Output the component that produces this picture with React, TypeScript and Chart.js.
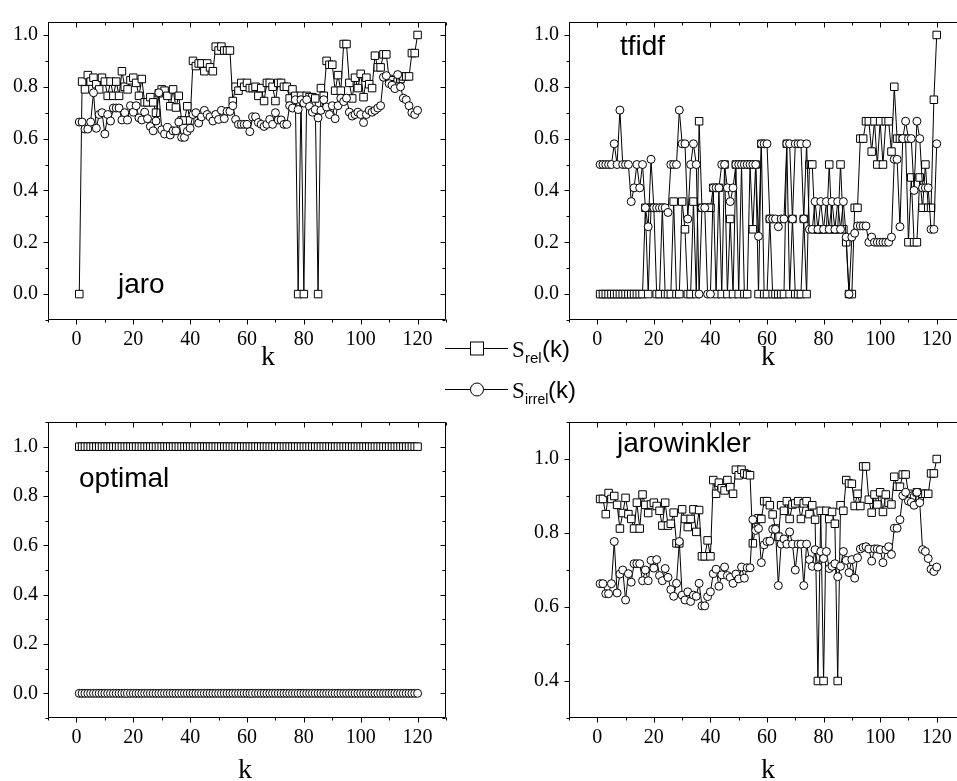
import React, { useEffect, useRef } from 'react';
import { Chart, registerables } from 'chart.js';

Chart.register(...registerables);

// k = 1..120
const K = [
  1, 2, 3, 4, 5, 6, 7, 8, 9, 10, 11, 12, 13, 14, 15, 16, 17, 18, 19, 20,
  21, 22, 23, 24, 25, 26, 27, 28, 29, 30, 31, 32, 33, 34, 35, 36, 37, 38, 39, 40,
  41, 42, 43, 44, 45, 46, 47, 48, 49, 50, 51, 52, 53, 54, 55, 56, 57, 58, 59, 60,
  61, 62, 63, 64, 65, 66, 67, 68, 69, 70, 71, 72, 73, 74, 75, 76, 77, 78, 79, 80,
  81, 82, 83, 84, 85, 86, 87, 88, 89, 90, 91, 92, 93, 94, 95, 96, 97, 98, 99, 100,
  101, 102, 103, 104, 105, 106, 107, 108, 109, 110, 111, 112, 113, 114, 115, 116, 117, 118, 119, 120,
];

const X_TICK_LABELS = [0, 20, 40, 60, 80, 100, 120];
const Y_TICKS_FULL = [0, 0.2, 0.4, 0.6, 0.8, 1.0];
const Y_TICKS_JW = [0.4, 0.6, 0.8, 1.0];

// jaro
const JARO_REL = [
  0, 0.82, 0.79, 0.845, 0.82, 0.835, 0.81, 0.79, 0.835, 0.82,
  0.765, 0.82, 0.765, 0.82, 0.765, 0.86, 0.8, 0.79, 0.825, 0.835,
  0.815, 0.765, 0.83, 0.74, 0.74, 0.76, 0.74, 0.7, 0.775, 0.79,
  0.785, 0.765, 0.725, 0.79, 0.72, 0.765, 0.67, 0.67, 0.725, 0.67,
  0.9, 0.88, 0.89, 0.89, 0.86, 0.89, 0.875, 0.86, 0.955, 0.94,
  0.955, 0.94, 0.94, 0.94, 0.745, 0.8, 0.785, 0.815, 0.8, 0.815,
  0.795, 0.795, 0.8, 0.765, 0.795, 0.745, 0.815, 0.815, 0.8, 0.745,
  0.815, 0.815, 0.8, 0.8, 0.755, 0.79, 0.765, 0, 0.765, 0,
  0.765, 0.76, 0.76, 0.755, 0, 0.795, 0.765, 0.9, 0.885, 0.885,
  0.785, 0.845, 0.785, 0.965, 0.965, 0.815, 0.755, 0.835, 0.795, 0.85,
  0.76, 0.835, 0.81, 0.795, 0.92, 0.875, 0.875, 0.925, 0.925, 0.83,
  0.825, 0.81, 0.82, 0.83, 0.84, 0.84, 0.84, 0.93, 0.93, 1.0,
];
const JARO_IRR = [
  0.664, 0.664, 0.637, 0.637, 0.664, 0.777, 0.64, 0.693, 0.7, 0.618,
  0.693, 0.668, 0.718, 0.718, 0.718, 0.672, 0.7, 0.672, 0.727, 0.702,
  0.727, 0.68, 0.672, 0.702, 0.677, 0.647, 0.63, 0.668, 0.777, 0.634,
  0.618, 0.643, 0.614, 0.63, 0.63, 0.664, 0.605, 0.605, 0.628, 0.64,
  0.693, 0.7, 0.66, 0.684, 0.709, 0.693, 0.684, 0.668, 0.693, 0.674,
  0.709, 0.677, 0.705, 0.705, 0.727, 0.674, 0.655, 0.655, 0.655, 0.655,
  0.627, 0.684, 0.684, 0.662, 0.655, 0.647, 0.655, 0.674, 0.655, 0.7,
  0.672, 0.672, 0.655, 0.655, 0.727, 0.718, 0.75, 0.712, 0.75, 0.737,
  0.75, 0.724, 0.702, 0.712, 0.68, 0.709, 0.75, 0.722, 0.693, 0.727,
  0.677, 0.727, 0.756, 0.743, 0.756, 0.702, 0.687, 0.693, 0.702, 0.693,
  0.662, 0.693, 0.709, 0.702, 0.709, 0.718, 0.727, 0.837, 0.843, 0.812,
  0.806, 0.793, 0.847, 0.8, 0.756, 0.75, 0.727, 0.7, 0.693, 0.709,
];

// tfidf
const TFIDF_REL = [
  0, 0, 0, 0, 0, 0, 0, 0, 0, 0,
  0, 0, 0, 0, 0, 0, 0.333, 0, 0.333, 0.333,
  0, 0, 0.333, 0, 0, 0, 0.357, 0, 0, 0.357,
  0.25, 0, 0, 0.357, 0, 0.667, 0.333, 0.333, 0.333, 0.333,
  0.41, 0, 0.41, 0, 0.5, 0, 0.29, 0, 0.5, 0,
  0.5, 0, 0, 0.5, 0.25, 0.5, 0, 0.58, 0, 0,
  0.29, 0, 0, 0, 0, 0, 0.58, 0, 0.29, 0,
  0, 0, 0.29, 0, 0.5, 0.5, 0.25, 0.25, 0.25, 0.25,
  0.25, 0.5, 0.25, 0.25, 0.25, 0.5, 0.25, 0.2, 0, 0,
  0.333, 0.333, 0.6, 0.6, 0.667, 0.667, 0.55, 0.667, 0.5, 0.667,
  0.5, 0.667, 0.667, 0.55, 0.8, 0.6, 0.6, 0.6, 0.6, 0.2,
  0.45, 0.2, 0.2, 0.45, 0.333, 0.5, 0.333, 0.333, 0.75, 1.0,
];
const TFIDF_IRR = [
  0.5, 0.5, 0.5, 0.5, 0.5, 0.58, 0.5, 0.71, 0.5, 0.5,
  0.5, 0.357, 0.41, 0.5, 0.41, 0.5, 0.333, 0.26, 0.52, 0.333,
  0.333, 0.333, 0.333, 0.333, 0.315, 0.5, 0.5, 0.5, 0.71, 0.58,
  0.58, 0.29, 0.5, 0.58, 0.5, 0, 0.333, 0.333, 0, 0,
  0.41, 0.41, 0.41, 0.5, 0.5, 0.41, 0.357, 0.41, 0.5, 0.5,
  0.5, 0.5, 0.5, 0.5, 0.5, 0.5, 0.223, 0.58, 0.58, 0.58,
  0.29, 0.29, 0.29, 0.26, 0.29, 0.29, 0.58, 0.58, 0.29, 0.58,
  0.58, 0.58, 0.29, 0.58, 0.25, 0.25, 0.357, 0.25, 0.357, 0.25,
  0.357, 0.25, 0.357, 0.25, 0.357, 0.25, 0.357, 0.22, 0, 0.22,
  0.235, 0.263, 0.263, 0.263, 0.263, 0.2, 0.22, 0.2, 0.2, 0.2,
  0.2, 0.2, 0.2, 0.22, 0.52, 0.52, 0.26, 0.6, 0.667, 0.6,
  0.6, 0.4, 0.667, 0.6, 0.41, 0.41, 0.41, 0.25, 0.25, 0.58,
];

// optimal
const OPT_REL = [
  1, 1, 1, 1, 1, 1, 1, 1, 1, 1, 1, 1, 1, 1, 1, 1, 1, 1, 1, 1,
  1, 1, 1, 1, 1, 1, 1, 1, 1, 1, 1, 1, 1, 1, 1, 1, 1, 1, 1, 1,
  1, 1, 1, 1, 1, 1, 1, 1, 1, 1, 1, 1, 1, 1, 1, 1, 1, 1, 1, 1,
  1, 1, 1, 1, 1, 1, 1, 1, 1, 1, 1, 1, 1, 1, 1, 1, 1, 1, 1, 1,
  1, 1, 1, 1, 1, 1, 1, 1, 1, 1, 1, 1, 1, 1, 1, 1, 1, 1, 1, 1,
  1, 1, 1, 1, 1, 1, 1, 1, 1, 1, 1, 1, 1, 1, 1, 1, 1, 1, 1, 1,
];
const OPT_IRR = [
  0, 0, 0, 0, 0, 0, 0, 0, 0, 0, 0, 0, 0, 0, 0, 0, 0, 0, 0, 0,
  0, 0, 0, 0, 0, 0, 0, 0, 0, 0, 0, 0, 0, 0, 0, 0, 0, 0, 0, 0,
  0, 0, 0, 0, 0, 0, 0, 0, 0, 0, 0, 0, 0, 0, 0, 0, 0, 0, 0, 0,
  0, 0, 0, 0, 0, 0, 0, 0, 0, 0, 0, 0, 0, 0, 0, 0, 0, 0, 0, 0,
  0, 0, 0, 0, 0, 0, 0, 0, 0, 0, 0, 0, 0, 0, 0, 0, 0, 0, 0, 0,
  0, 0, 0, 0, 0, 0, 0, 0, 0, 0, 0, 0, 0, 0, 0, 0, 0, 0, 0, 0,
];

// jarowinkler
const JW_REL = [
  0.892, 0.892, 0.851, 0.908, 0.892, 0.9, 0.876, 0.812, 0.854, 0.895,
  0.851, 0.838, 0.812, 0.882, 0.812, 0.904, 0.876, 0.854, 0.877, 0.882,
  0.873, 0.86, 0.82, 0.882, 0.82, 0.825, 0.855, 0.772, 0.772, 0.864,
  0.838, 0.816, 0.838, 0.864, 0.803, 0.862, 0.737, 0.737, 0.78, 0.737,
  0.943, 0.906, 0.936, 0.921, 0.915, 0.943, 0.924, 0.906, 0.971, 0.956,
  0.971, 0.961, 0.958, 0.956, 0.772, 0.816, 0.84, 0.838, 0.886, 0.886,
  0.875, 0.85, 0.812, 0.79, 0.875, 0.86, 0.886, 0.838, 0.877, 0.88,
  0.886, 0.838, 0.88, 0.886, 0.851, 0.875, 0.836, 0.4, 0.86, 0.4,
  0.86, 0.838, 0.857, 0.825, 0.4, 0.875, 0.86, 0.943, 0.934, 0.933,
  0.873, 0.906, 0.873, 0.98, 0.98, 0.89, 0.855, 0.904, 0.877, 0.91,
  0.857, 0.904, 0.882, 0.877, 0.952, 0.925, 0.925, 0.958, 0.958, 0.906,
  0.9, 0.895, 0.91, 0.898, 0.906, 0.906, 0.906, 0.961, 0.961, 1.0,
];
const JW_IRR = [
  0.663, 0.663, 0.636, 0.636, 0.663, 0.777, 0.638, 0.689, 0.7, 0.619,
  0.69, 0.667, 0.717, 0.717, 0.717, 0.671, 0.7, 0.671, 0.726, 0.705,
  0.728, 0.685, 0.671, 0.704, 0.68, 0.647, 0.629, 0.664, 0.777, 0.632,
  0.619, 0.641, 0.615, 0.632, 0.629, 0.664, 0.603, 0.603, 0.628, 0.641,
  0.69, 0.702, 0.656, 0.687, 0.708, 0.685, 0.68, 0.664, 0.689, 0.676,
  0.708, 0.678, 0.706, 0.706, 0.836, 0.807, 0.812, 0.72, 0.768, 0.777,
  0.778, 0.81, 0.81, 0.658, 0.77, 0.784, 0.77, 0.803, 0.77, 0.7,
  0.77, 0.77, 0.658, 0.77, 0.728, 0.71, 0.755, 0.708, 0.75, 0.731,
  0.75, 0.704, 0.71, 0.717, 0.682, 0.71, 0.75, 0.726, 0.693, 0.728,
  0.678, 0.733, 0.757, 0.761, 0.763, 0.757, 0.724, 0.757, 0.757, 0.755,
  0.72, 0.755, 0.763, 0.742, 0.813, 0.813, 0.836, 0.901, 0.91, 0.886,
  0.883, 0.875, 0.91, 0.882, 0.755, 0.75, 0.731, 0.702, 0.696, 0.708,
];

const SERIF = '"Liberation Serif", "Times New Roman", serif';
const SANS = '"Liberation Sans", Arial, sans-serif';

const frameTicks = {
  id: 'frameTicks',
  afterDraw(chart: any) {
    const { ctx, chartArea } = chart;
    const xs = chart.scales.x;
    const ys = chart.scales.y;
    const L = Math.round(chartArea.left) + 0.5;
    const R = Math.round(chartArea.right) - 0.5;
    const T = Math.round(chartArea.top) + 0.5;
    const B = Math.round(chartArea.bottom) - 0.5;
    ctx.save();
    ctx.strokeStyle = '#000';
    ctx.lineWidth = 1;
    ctx.beginPath();
    ctx.rect(L, T, R - L, B - T);
    ctx.stroke();
    ctx.beginPath();
    for (let v = xs.min; v <= xs.max + 1e-9; v += 10) {
      const px = Math.round(xs.getPixelForValue(v)) + 0.5;
      const len = Math.round(v) % 20 === 0 ? 5 : 3;
      ctx.moveTo(px, B);
      ctx.lineTo(px, B + len);
      ctx.moveTo(px, T);
      ctx.lineTo(px, T + len);
    }
    const start = Math.ceil(ys.min * 10 - 1e-6);
    const end = Math.floor(ys.max * 10 + 1e-6);
    for (let i = start; i <= end; i++) {
      const v = i / 10;
      const py = Math.round(ys.getPixelForValue(v)) + 0.5;
      const len = Math.abs(i) % 2 === 0 ? 5 : 3;
      ctx.moveTo(L, py);
      ctx.lineTo(L - len, py);
      ctx.moveTo(R, py);
      ctx.lineTo(R - len, py);
    }
    ctx.stroke();
    ctx.restore();
  },
};

const panelText = {
  id: 'panelText',
  afterDraw(chart: any, _a: any, opts: any) {
    if (!opts) return;
    const { ctx } = chart;
    ctx.save();
    ctx.fillStyle = '#000';
    ctx.textBaseline = 'alphabetic';
    if (opts.text) {
      ctx.font = `28px ${SANS}`;
      ctx.textAlign = 'left';
      ctx.fillText(opts.text, opts.x, opts.y);
    }
    if (opts.axisTitle) {
      ctx.font = `28px ${SERIF}`;
      ctx.textAlign = 'center';
      ctx.fillText(opts.axisTitle, opts.tx, opts.ty);
    }
    ctx.restore();
  },
};

type PanelProps = {
  left: number;
  top: number;
  width: number;
  height: number;
  padTop: number;
  padRight: number;
  xAxisH: number;
  yMin: number;
  yMax: number;
  yTicks: number[];
  rel: number[];
  irr: number[];
  label: string;
  labelX: number;
  labelY: number;
  titleX: number;
  titleY: number;
};

function Panel(p: PanelProps) {
  const ref = useRef<HTMLCanvasElement>(null);
  useEffect(() => {
    if (!ref.current) return;
    const relPts = K.map((k, i) => ({ x: k, y: p.rel[i] }));
    const irrPts = K.map((k, i) => ({ x: k, y: p.irr[i] }));
    const chart = new Chart(ref.current, {
      type: 'line',
      data: {
        datasets: [
          {
            label: 'S_irrel(k)',
            data: irrPts,
            borderColor: '#000',
            borderWidth: 1,
            pointStyle: 'circle',
            pointRadius: 4,
            pointBackgroundColor: '#fff',
            pointBorderColor: '#000',
            pointBorderWidth: 1,
            tension: 0,
            fill: false,
          },
          {
            label: 'S_rel(k)',
            data: relPts,
            borderColor: '#000',
            borderWidth: 1,
            pointStyle: 'rect',
            pointRadius: 5.3,
            pointBackgroundColor: '#fff',
            pointBorderColor: '#000',
            pointBorderWidth: 1,
            tension: 0,
            fill: false,
          },
        ],
      },
      options: {
        animation: false,
        responsive: false,
        devicePixelRatio: 1,
        events: [],
        layout: { padding: { top: p.padTop, right: p.padRight, bottom: 0, left: 0 } },
        plugins: {
          legend: { display: false },
          tooltip: { enabled: false },
          panelText: {
            text: p.label,
            x: p.labelX,
            y: p.labelY,
            axisTitle: 'k',
            tx: p.titleX,
            ty: p.titleY,
          },
        } as any,
        scales: {
          x: {
            type: 'linear',
            min: -10,
            max: 130,
            afterFit: (s: any) => {
              s.height = p.xAxisH;
            },
            afterBuildTicks: (s: any) => {
              s.ticks = X_TICK_LABELS.map((v) => ({ value: v }));
            },
            grid: { display: false, drawTicks: false },
            border: { display: false },
            ticks: {
              autoSkip: false,
              maxRotation: 0,
              minRotation: 0,
              padding: 8,
              color: '#000',
              font: { family: SERIF, size: 20 },
              callback: (v: any) => String(Math.round(Number(v))),
            },
          },
          y: {
            type: 'linear',
            min: p.yMin,
            max: p.yMax,
            afterFit: (s: any) => {
              s.width = 48;
            },
            afterBuildTicks: (s: any) => {
              s.ticks = p.yTicks.map((v) => ({ value: v }));
            },
            grid: { display: false, drawTicks: false },
            border: { display: false },
            ticks: {
              autoSkip: false,
              padding: 10,
              color: '#000',
              font: { family: SERIF, size: 20 },
              callback: (v: any) => Number(v).toFixed(1),
            },
          },
        },
      },
      plugins: [frameTicks, panelText],
    } as any);
    return () => chart.destroy();
  }, []);
  return (
    <canvas
      ref={ref}
      width={p.width}
      height={p.height}
      style={{ position: 'absolute', left: p.left, top: p.top, width: p.width, height: p.height }}
    />
  );
}

export default function App() {
  return (
    <div
      style={{
        position: 'absolute',
        left: 0,
        top: 0,
        width: 957,
        height: 781,
        overflow: 'hidden',
        background: '#fff',
      }}
    >
      <Panel
        left={0} top={0} width={460} height={395}
        padTop={14} padRight={14} xAxisH={75}
        yMin={-0.1} yMax={1.05} yTicks={Y_TICKS_FULL}
        rel={JARO_REL} irr={JARO_IRR}
        label="jaro" labelX={118} labelY={293}
        titleX={268} titleY={365}
      />
      <Panel
        left={521} top={0} width={460} height={395}
        padTop={14} padRight={16} xAxisH={75}
        yMin={-0.1} yMax={1.05} yTicks={Y_TICKS_FULL}
        rel={TFIDF_REL} irr={TFIDF_IRR}
        label="tfidf" labelX={99} labelY={55}
        titleX={247} titleY={365}
      />
      <Panel
        left={0} top={400} width={460} height={395}
        padTop={13} padRight={14} xAxisH={77}
        yMin={-0.1} yMax={1.1} yTicks={Y_TICKS_FULL}
        rel={OPT_REL} irr={OPT_IRR}
        label="optimal" labelX={79} labelY={87}
        titleX={245} titleY={378}
      />
      <Panel
        left={521} top={400} width={460} height={395}
        padTop={13} padRight={16} xAxisH={77}
        yMin={0.3} yMax={1.1} yTicks={Y_TICKS_JW}
        rel={JW_REL} irr={JW_IRR}
        label="jarowinkler" labelX={96} labelY={52}
        titleX={247} titleY={378}
      />
      <svg
        width={957}
        height={781}
        style={{ position: 'absolute', left: 0, top: 0, pointerEvents: 'none' }}
      >
        <line x1={445} y1={348.5} x2={508} y2={348.5} stroke="#000" strokeWidth={1} />
        <rect x={470.5} y={342} width={13} height={13} fill="#fff" stroke="#000" strokeWidth={1} />
        <text x={512} y={357} fontFamily={SERIF} fontSize={23} fill="#000">S</text>
        <text x={525} y={363} fontFamily={SANS} fontSize={15} fill="#000">rel</text>
        <text x={542} y={357} fontFamily={SANS} fontSize={24} fill="#000">(k)</text>

        <line x1={445} y1={389.5} x2={508} y2={389.5} stroke="#000" strokeWidth={1} />
        <circle cx={477} cy={389.5} r={6.5} fill="#fff" stroke="#000" strokeWidth={1} />
        <text x={512} y={398} fontFamily={SERIF} fontSize={23} fill="#000">S</text>
        <text x={525} y={404} fontFamily={SANS} fontSize={14} fill="#000">irrel</text>
        <text x={548} y={398} fontFamily={SANS} fontSize={24} fill="#000">(k)</text>
      </svg>
    </div>
  );
}
